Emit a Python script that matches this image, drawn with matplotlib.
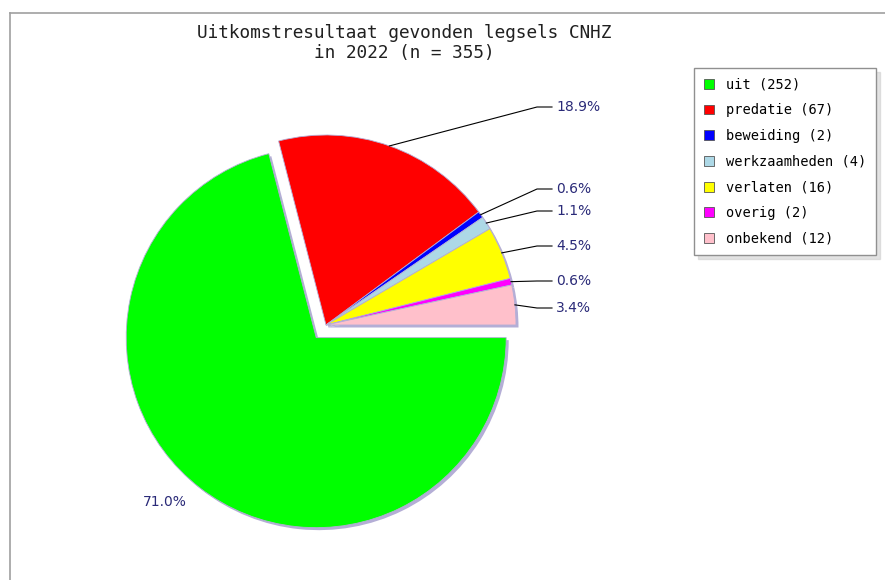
import matplotlib.pyplot as plt
import numpy as np
from matplotlib.patches import Patch
from matplotlib.lines import Line2D

# uitkomst per legsel
categorieen = ['uit', 'predatie', 'beweiding', 'werkzaamheden', 'verlaten', 'overig', 'onbekend']
aantallen = [252, 67, 2, 4, 16, 2, 12]
kleuren = ['#00ff00', '#ff0000', '#0000ff', '#add8e6', '#ffff00', '#ff00ff', '#ffc0cb']
jaar = 2022

W, H = 885, 580
totaal = sum(aantallen)
# explode werkt in data-eenheden, hier dus pixels
explode = [16, 0, 0, 0, 0, 0, 0]

fig = plt.figure(figsize=(W / 100, H / 100), dpi=100)
ax = fig.add_axes([0, 0, 1, 1])

# de assen rekenen in pixels, y naar beneden (daarom counterclock=True)
centrum = (326, 325)
straal = 190
schaduw = '#b4aed6'
ax.pie(aantallen, colors=[schaduw] * len(aantallen), explode=explode,
       startangle=0, counterclock=True, radius=straal,
       center=(centrum[0] + 2.5, centrum[1] + 2.5),
       wedgeprops=dict(linewidth=0))
wedges, _ = ax.pie(aantallen, colors=kleuren, explode=explode,
                   startangle=0, counterclock=True, radius=straal, center=centrum,
                   wedgeprops=dict(edgecolor=schaduw, linewidth=0.6))
ax.set_xlim(0, W)
ax.set_ylim(H, 0)
ax.set_aspect('equal')
ax.axis('off')

pct = [100.0 * a / totaal for a in aantallen]
tekstkleur = '#2a2a78'

# labels rechts met verbindingslijn, hoogte per label
label_y = [None, 107, 189, 211, 246, 281, 308]
for w, p, y in zip(wedges, pct, label_y):
    if y is None:
        continue
    hoek = np.deg2rad((w.theta1 + w.theta2) / 2)
    cx, cy = w.center
    x0 = cx + w.r * np.cos(hoek)
    y0 = cy + w.r * np.sin(hoek)
    ax.plot([x0, 537, 552], [y0, y, y], color='black', lw=0.8)
    ax.text(556, y, '%.1f%%' % p, color=tekstkleur, fontsize=10,
            ha='left', va='center', family='DejaVu Sans')

# label van de grootste sector zonder lijn
ax.text(165, 502, '%.1f%%' % pct[0], color=tekstkleur, fontsize=10,
        ha='center', va='center', family='DejaVu Sans')

# titel
ax.text(404, 33, 'Uitkomstresultaat gevonden legsels CNHZ', fontsize=12.8,
        family='DejaVu Sans Mono', ha='center', va='center', color='#202020')
ax.text(404, 53, 'in %d (n = %d)' % (jaar, totaal), fontsize=12.8,
        family='DejaVu Sans Mono', ha='center', va='center', color='#202020')

# kader rond de grafiek
fig.add_artist(Line2D([9.5 / W, 9.5 / W], [0, 1 - 13 / H], color='#a0a0a0', lw=1.2))
fig.add_artist(Line2D([9.5 / W, 1], [1 - 13 / H, 1 - 13 / H], color='#a0a0a0', lw=1.2))

# legenda
handles = [Patch(facecolor=k, edgecolor='#555555', linewidth=0.6) for k in kleuren]
namen = ['%s (%d)' % (c, a) for c, a in zip(categorieen, aantallen)]
leg = fig.legend(handles, namen, loc='upper left',
                 bbox_to_anchor=(694 / W, 1 - 68 / H),
                 prop={'family': 'DejaVu Sans Mono', 'size': 9.8},
                 handlelength=0.75, handleheight=0.75, handletextpad=0.9,
                 labelspacing=0.86, borderpad=0.7, borderaxespad=0,
                 fancybox=False, shadow={'ox': 3, 'oy': -3, 'color': '#c8c8c8'},
                 edgecolor='#909090', framealpha=1)
leg.get_frame().set_linewidth(1.0)

fig.savefig('out.png', dpi=100, facecolor='white')
